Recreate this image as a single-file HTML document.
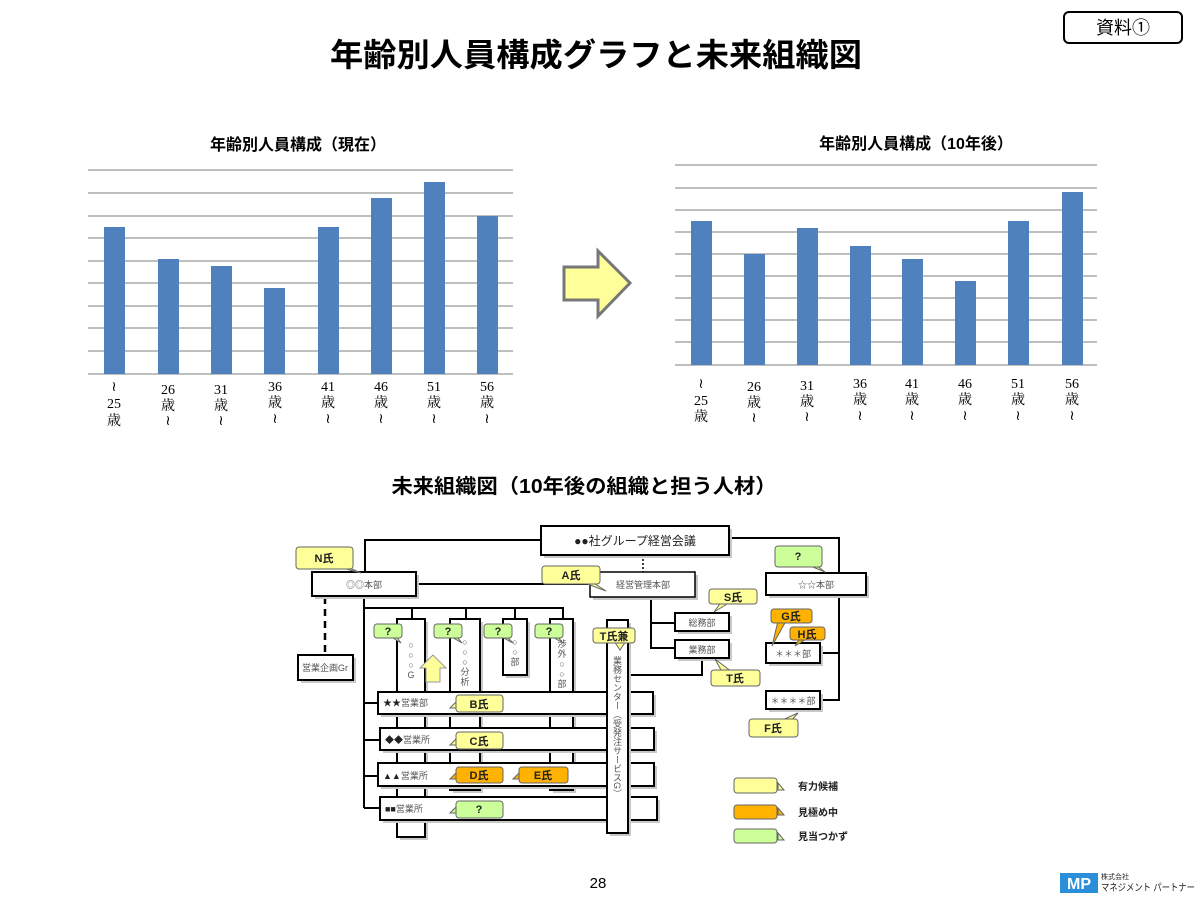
<!DOCTYPE html>
<html><head><meta charset="utf-8">
<style>
html,body{margin:0;padding:0;background:#fff;}
svg{display:block;}
text{font-family:"Liberation Sans","Noto Sans CJK JP",sans-serif;}
.b{font-weight:bold;}
.s text{font-family:"Liberation Serif","Noto Serif CJK SC",serif;font-size:14px;}
.sm{font-size:9px;fill:#555;}
.cl{font-size:11px;font-weight:bold;fill:#222;}
</style></head><body>
<svg width="1200" height="900" viewBox="0 0 1200 900" xmlns="http://www.w3.org/2000/svg">
<rect width="1200" height="900" fill="#fff"/>
<!-- header -->
<text x="596" y="66" text-anchor="middle" class="b" font-size="32" textLength="532" lengthAdjust="spacingAndGlyphs">年齢別人員構成グラフと未来組織図</text>
<rect x="1064" y="12" width="118" height="31" rx="5" fill="#fff" stroke="#000" stroke-width="2"/>
<text x="1123" y="34" text-anchor="middle" font-size="18">資料①</text>

<!-- chart 1 -->
<text x="298" y="150" text-anchor="middle" class="b" font-size="16">年齢別人員構成（現在）</text>
<g stroke="#999" stroke-width="1.3">
<line x1="88" x2="513" y1="170" y2="170"/><line x1="88" x2="513" y1="193" y2="193"/><line x1="88" x2="513" y1="216" y2="216"/><line x1="88" x2="513" y1="238" y2="238"/><line x1="88" x2="513" y1="261" y2="261"/><line x1="88" x2="513" y1="283" y2="283"/><line x1="88" x2="513" y1="306" y2="306"/><line x1="88" x2="513" y1="328" y2="328"/><line x1="88" x2="513" y1="351" y2="351"/><line x1="88" x2="513" y1="374" y2="374"/>
</g>
<g fill="#4f81bd">
<rect x="104" y="227" width="21" height="147"/><rect x="158" y="259" width="21" height="115"/><rect x="211" y="266" width="21" height="108"/><rect x="264" y="288" width="21" height="86"/><rect x="318" y="227" width="21" height="147"/><rect x="371" y="198" width="21" height="176"/><rect x="424" y="182" width="21" height="192"/><rect x="477" y="216" width="21" height="158"/>
</g>
<g class="s" text-anchor="middle">
<text x="114" y="391">≀</text><text x="114" y="408">25</text><text x="114" y="425">歳</text>
<text x="168" y="394">26</text><text x="168" y="410">歳</text><text x="168" y="425">≀</text>
<text x="221" y="394">31</text><text x="221" y="410">歳</text><text x="221" y="425">≀</text>
<text x="275" y="391">36</text><text x="275" y="407">歳</text><text x="275" y="423">≀</text>
<text x="328" y="391">41</text><text x="328" y="407">歳</text><text x="328" y="423">≀</text>
<text x="381" y="391">46</text><text x="381" y="407">歳</text><text x="381" y="423">≀</text>
<text x="434" y="391">51</text><text x="434" y="407">歳</text><text x="434" y="423">≀</text>
<text x="487" y="391">56</text><text x="487" y="407">歳</text><text x="487" y="423">≀</text>
</g>

<!-- arrow -->
<polygon points="564,267 598,267 598,251 630,283 598,316 598,300 564,300" fill="#ffff99" stroke="#777" stroke-width="3"/>

<!-- chart 2 -->
<text x="916" y="149" text-anchor="middle" class="b" font-size="16">年齢別人員構成（10年後）</text>
<g stroke="#999" stroke-width="1.3">
<line x1="675" x2="1097" y1="165" y2="165"/><line x1="675" x2="1097" y1="188" y2="188"/><line x1="675" x2="1097" y1="210" y2="210"/><line x1="675" x2="1097" y1="232" y2="232"/><line x1="675" x2="1097" y1="254" y2="254"/><line x1="675" x2="1097" y1="276" y2="276"/><line x1="675" x2="1097" y1="298" y2="298"/><line x1="675" x2="1097" y1="320" y2="320"/><line x1="675" x2="1097" y1="342" y2="342"/><line x1="675" x2="1097" y1="365" y2="365"/>
</g>
<g fill="#4f81bd">
<rect x="691" y="221" width="21" height="144"/><rect x="744" y="254" width="21" height="111"/><rect x="797" y="228" width="21" height="137"/><rect x="850" y="246" width="21" height="119"/><rect x="902" y="259" width="21" height="106"/><rect x="955" y="281" width="21" height="84"/><rect x="1008" y="221" width="21" height="144"/><rect x="1062" y="192" width="21" height="173"/>
</g>
<g class="s" text-anchor="middle">
<text x="701" y="388">≀</text><text x="701" y="405">25</text><text x="701" y="421">歳</text>
<text x="754" y="391">26</text><text x="754" y="407">歳</text><text x="754" y="422">≀</text>
<text x="807" y="390">31</text><text x="807" y="406">歳</text><text x="807" y="421">≀</text>
<text x="860" y="388">36</text><text x="860" y="404">歳</text><text x="860" y="420">≀</text>
<text x="912" y="388">41</text><text x="912" y="404">歳</text><text x="912" y="420">≀</text>
<text x="965" y="388">46</text><text x="965" y="404">歳</text><text x="965" y="420">≀</text>
<text x="1018" y="388">51</text><text x="1018" y="404">歳</text><text x="1018" y="420">≀</text>
<text x="1072" y="388">56</text><text x="1072" y="404">歳</text><text x="1072" y="420">≀</text>
</g>

<!-- org title -->
<text x="584" y="493" text-anchor="middle" class="b" font-size="20" textLength="385" lengthAdjust="spacingAndGlyphs">未来組織図（10年後の組織と担う人材）</text>

<!-- connector lines -->
<g stroke="#000" stroke-width="2" fill="none">
<polyline points="541,540 365,540 365,573"/>
<line x1="416" y1="584" x2="590" y2="584"/>
<polyline points="729,538 839,538 839,700 820,700"/>
<line x1="820" y1="653" x2="839" y2="653"/>
<polyline points="651,597 651,648 675,648"/>
<line x1="651" y1="623" x2="675" y2="623"/>
<polyline points="702,659 702,675 627,675"/>
<line x1="364" y1="596" x2="364" y2="808"/>
<line x1="364" y1="703" x2="380" y2="703"/>
<line x1="364" y1="740" x2="380" y2="740"/>
<line x1="364" y1="776" x2="380" y2="776"/>
<line x1="364" y1="808" x2="380" y2="808"/>
<polyline points="364,608 563,608 563,619"/>
<line x1="412" y1="608" x2="412" y2="619"/>
<line x1="466" y1="608" x2="466" y2="619"/>
<line x1="515" y1="608" x2="515" y2="619"/>
</g>
<line x1="643" y1="555" x2="643" y2="572" stroke="#000" stroke-width="1.5" stroke-dasharray="2,2"/>
<line x1="325" y1="597" x2="325" y2="655" stroke="#000" stroke-width="2.5" stroke-dasharray="7,5"/>

<!-- boxes with shadows -->
<g fill="#c8c8c8">
<rect x="544" y="529" width="188" height="29"/>
<rect x="315" y="575" width="104" height="24"/>
<rect x="593" y="575" width="105" height="25"/>
<rect x="769" y="576" width="100" height="22"/>
<rect x="678" y="616" width="54" height="18"/>
<rect x="678" y="643" width="54" height="18"/>
<rect x="769" y="646" width="54" height="20"/>
<rect x="769" y="694" width="54" height="18"/>
<rect x="301" y="658" width="55" height="25"/>
<rect x="400" y="622" width="28" height="218"/>
<rect x="453" y="622" width="30" height="171"/>
<rect x="506" y="622" width="24" height="56"/>
<rect x="553" y="622" width="23" height="171"/>
</g>
<g fill="#fff" stroke="#000" stroke-width="2">
<rect x="541" y="526" width="188" height="29"/>
<rect x="312" y="572" width="104" height="24"/>
<rect x="590" y="572" width="105" height="25" stroke-width="1.5"/>
<rect x="766" y="573" width="100" height="22"/>
<rect x="675" y="613" width="54" height="18"/>
<rect x="675" y="640" width="54" height="18"/>
<rect x="766" y="643" width="54" height="20"/>
<rect x="766" y="691" width="54" height="18"/>
<rect x="298" y="655" width="55" height="25"/>
<rect x="397" y="619" width="28" height="218"/>
<rect x="450" y="619" width="30" height="171"/>
<rect x="503" y="619" width="24" height="56"/>
<rect x="550" y="619" width="23" height="171"/>
</g>
<!-- rows -->
<g fill="#c8c8c8">
<rect x="381" y="695" width="275" height="22"/>
<rect x="383" y="731" width="274" height="22"/>
<rect x="381" y="766" width="276" height="23"/>
<rect x="383" y="800" width="277" height="23"/>
</g>
<g fill="#fff" stroke="#000" stroke-width="2">
<rect x="378" y="692" width="275" height="22"/>
<rect x="380" y="728" width="274" height="22"/>
<rect x="378" y="763" width="276" height="23"/>
<rect x="380" y="797" width="277" height="23"/>
</g>
<!-- 業務センター -->
<rect x="610" y="623" width="21" height="213" fill="#c8c8c8"/>
<rect x="607" y="620" width="21" height="213" fill="#fff" stroke="#000" stroke-width="2"/>

<!-- box texts -->
<text x="635" y="545" text-anchor="middle" font-size="12" fill="#222">●●社グループ経営会議</text>
<text x="364" y="588" text-anchor="middle" class="sm">◎◎本部</text>
<text x="643" y="588" text-anchor="middle" class="sm">経営管理本部</text>
<text x="816" y="588" text-anchor="middle" class="sm">☆☆本部</text>
<text x="702" y="626" text-anchor="middle" class="sm">総務部</text>
<text x="702" y="653" text-anchor="middle" class="sm">業務部</text>
<text x="793" y="657" text-anchor="middle" class="sm">＊＊＊部</text>
<text x="793" y="704" text-anchor="middle" class="sm">＊＊＊＊部</text>
<text x="325" y="671" text-anchor="middle" class="sm" font-size="8">営業企画Gr</text>
<g class="sm" text-anchor="middle" font-size="9">
<text x="411" y="648">○</text><text x="411" y="658">○</text><text x="411" y="668">○</text><text x="411" y="678">G</text>
<text x="465" y="645">○</text><text x="465" y="655">○</text><text x="465" y="665">○</text><text x="465" y="675">分</text><text x="465" y="685">析</text>
<text x="515" y="645">○</text><text x="515" y="655">○</text><text x="515" y="665">部</text>
<text x="562" y="647">渉</text><text x="562" y="657">外</text><text x="562" y="667">○</text><text x="562" y="677">○</text><text x="562" y="687">部</text>
</g>
<text x="617" y="656" class="sm" font-size="8.5" style="writing-mode:vertical-rl" text-anchor="start">業務センター（受発注サービスG）</text>
<text x="383" y="706" font-size="9" fill="#222">★★<tspan class="sm">営業部</tspan></text>
<text x="385" y="743" font-size="9" fill="#222">◆◆<tspan class="sm">営業所</tspan></text>
<text x="383" y="779" font-size="9" fill="#222">▲▲<tspan class="sm">営業所</tspan></text>
<text x="385" y="812" font-size="9" fill="#222">■■<tspan class="sm">営業所</tspan></text>

<!-- up arrow -->
<polygon points="433,655 446,668 440,668 440,682 426,682 426,668 420,668" fill="#ffff99" stroke="#999" stroke-width="1"/>

<!-- callouts -->
<g stroke="#666" stroke-width="1">
<g fill="#ffff99">
<polygon points="335,566 345,566 361,573"/><rect x="296" y="547" width="57" height="22" rx="3"/>
<polygon points="582,582 592,582 606,591"/><rect x="542" y="566" width="58" height="18" rx="3"/>
<polygon points="722,601 732,601 714,612"/><rect x="709" y="589" width="48" height="15" rx="3"/>
<polygon points="722,672 732,672 715,659"/><rect x="711" y="670" width="49" height="16" rx="3"/>
<polygon points="778,722 790,722 798,713"/><rect x="749" y="719" width="49" height="18" rx="3"/>
<polygon points="614,641 626,641 620,650"/><rect x="593" y="628" width="42" height="15" rx="3"/>
<polygon points="458,700 458,708 450,708"/><rect x="456" y="695" width="47" height="17" rx="3"/>
<polygon points="458,737 458,745 450,745"/><rect x="456" y="732" width="47" height="17" rx="3"/>
<polygon points="778,783 778,790 784,790"/><rect x="734" y="778" width="43" height="15" rx="3"/>
</g>
<g fill="#ffb300">
<polygon points="778,621 786,621 772,646"/><rect x="771" y="609" width="41" height="14" rx="3"/>
<polygon points="800,638 808,638 795,646"/><rect x="790" y="627" width="35" height="13" rx="3"/>
<polygon points="458,771 458,779 450,779"/><rect x="456" y="767" width="47" height="16" rx="3"/>
<polygon points="521,771 521,779 513,779"/><rect x="519" y="767" width="49" height="16" rx="3"/>
<polygon points="778,808 778,815 784,815"/><rect x="734" y="805" width="43" height="14" rx="3"/>
</g>
<g fill="#ccff99">
<polygon points="808,565 816,565 825,572"/><rect x="775" y="546" width="47" height="21" rx="3"/>
<polygon points="390,636 396,636 401,643"/><rect x="374" y="624" width="28" height="14" rx="3"/>
<polygon points="450,636 456,636 462,643"/><rect x="434" y="624" width="28" height="14" rx="3"/>
<polygon points="500,636 506,636 513,643"/><rect x="484" y="624" width="28" height="14" rx="3"/>
<polygon points="551,636 557,636 563,643"/><rect x="535" y="624" width="28" height="14" rx="3"/>
<polygon points="458,805 458,813 450,813"/><rect x="456" y="801" width="47" height="17" rx="3"/>
<polygon points="778,833 778,840 784,840"/><rect x="734" y="829" width="43" height="14" rx="3"/>
</g>
</g>
<g class="cl" text-anchor="middle">
<text x="324" y="562">N氏</text>
<text x="571" y="579">A氏</text>
<text x="733" y="601">S氏</text>
<text x="735" y="682">T氏</text>
<text x="773" y="732">F氏</text>
<text x="614" y="640">T氏兼</text>
<text x="479" y="708">B氏</text>
<text x="479" y="745">C氏</text>
<text x="479" y="779">D氏</text>
<text x="543" y="779">E氏</text>
<text x="791" y="620">G氏</text>
<text x="807" y="638">H氏</text>
<text x="798" y="560">?</text>
<text x="388" y="635">?</text><text x="448" y="635">?</text><text x="498" y="635">?</text><text x="549" y="635">?</text>
<text x="479" y="813">?</text>
</g>
<g font-size="10" font-weight="bold" fill="#222">
<text x="798" y="790">有力候補</text>
<text x="798" y="816">見極め中</text>
<text x="798" y="840">見当つかず</text>
</g>

<!-- footer -->
<text x="598" y="888" text-anchor="middle" font-size="15">28</text>
<rect x="1060" y="873" width="38" height="20" fill="#2a8fd8"/>
<text x="1079" y="889" text-anchor="middle" font-size="16" font-weight="bold" fill="#fff">MP</text>
<text x="1101" y="879" font-size="7" fill="#222">株式会社</text>
<text x="1101" y="891" font-size="10" fill="#222" textLength="94" lengthAdjust="spacingAndGlyphs">マネジメント パートナー</text>
</svg>
</body></html>
